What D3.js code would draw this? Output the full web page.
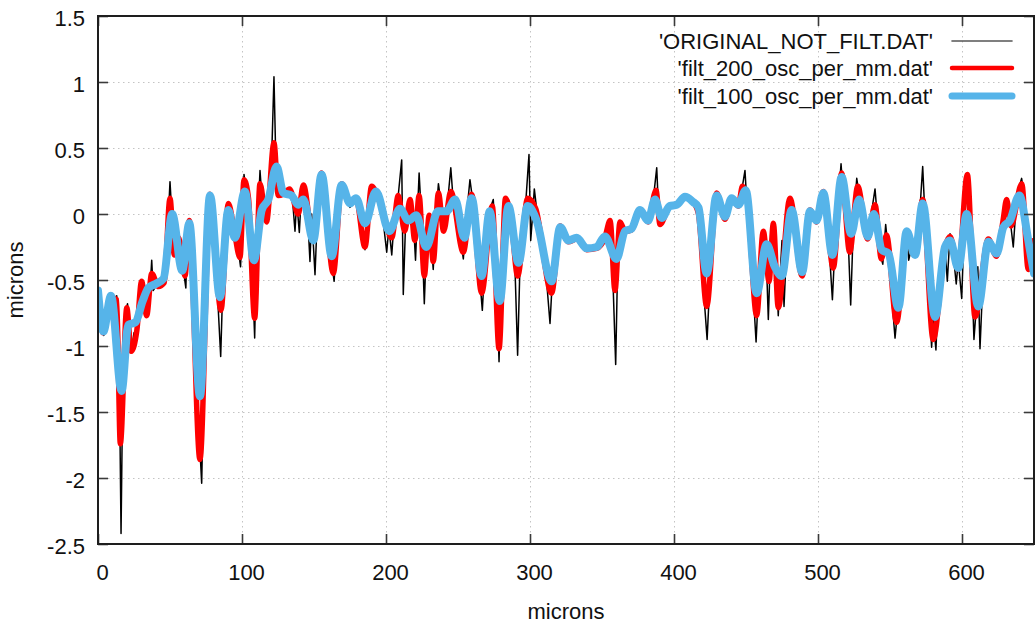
<!DOCTYPE html>
<html>
<head>
<meta charset="utf-8">
<script src="https://cdn.jsdelivr.net/npm/d3@7"></script>
<style>
  html, body { margin: 0; padding: 0; background: #fff; }
  svg { display: block; font-family: "Liberation Sans", Arial, sans-serif; }
</style>
</head>
<body>
<svg id="chart" width="1036" height="626"></svg>
<script>
// ---- data -------------------------------------------------------------
const seriesNames = ["'ORIGINAL_NOT_FILT.DAT'", "'filt_200_osc_per_mm.dat'", "'filt_100_osc_per_mm.dat'"];
const xTicks = [0, 100, 200, 300, 400, 500, 600];
const yTicks = [-2.5, -2, -1.5, -1, -0.5, 0, 0.5, 1, 1.5];
const xLabel = "microns";
const yLabel = "microns";

// raw profile [position, height]
const original = [
  [0,-0.62],[2,-0.82],[4,-0.92],[7,-0.7],[9,-0.62],[12,-0.68],[13,-0.62],[14.5,-0.9],[16,-2.42],[17.5,-1.0],
  [19,-0.75],[20.5,-0.68],[22,-0.85],[23,-1.05],[25,-0.9],[27,-0.88],[29,-0.7],[30.5,-0.5],[32,-0.62],[34,-0.78],
  [36,-0.6],[37.3,-0.35],[38.3,-0.58],[40,-0.55],[42,-0.55],[45,-0.52],[47,-0.45],[50,0.245],[51,0.05],[53,-0.3],
  [55,-0.2],[57,-0.25],[59,-0.4],[61,-0.56],[62,-0.2],[63.5,-0.05],[65,-0.2],[67,-0.7],[69,-1.4],[72,-2.04],
  [73,-1.5],[75,-0.4],[77.8,0.15],[80,-0.1],[82,-0.4],[85.2,-1.08],[86.5,-0.6],[88,-0.1],[90.5,0.08],[92,-0.05],
  [94,-0.2],[96,-0.15],[99,-0.4],[101.4,0.3],[103,0.15],[105,0.05],[107,-0.4],[108.8,-0.94],[110,-0.3],[112.5,0.33],
  [114,0.1],[116,-0.05],[118,-0.03],[120,0.2],[122.2,1.04],[123.5,0.4],[125.2,0.14],[127,0.15],[129,0.18],[131,0.16],
  [133,0.19],[135,0.12],[136.8,-0.13],[138,0.1],[139.8,-0.14],[141,0.1],[142.6,0.22],[144,0.05],[146,-0.1],[147.2,-0.36],
  [148.4,0.0],[150.7,-0.46],[152,-0.1],[155.3,0.32],[158,0.15],[160,-0.2],[162,-0.35],[164,-0.51],[166,-0.1],[169.2,0.24],
  [171,0.15],[173,0.1],[175,0.05],[177,0.1],[179.2,0.12],[181,0.05],[183,-0.1],[185.4,-0.27],[187,-0.1],[190,0.21],
  [192,0.15],[194,0.1],[196,0.05],[198,-0.05],[200.5,-0.29],[202,-0.1],[204,-0.31],[206,0.0],[208.5,0.14],[210.9,0.41],
  [212,-0.61],[213.5,-0.1],[216.7,0.11],[219,-0.05],[220.5,-0.35],[223,0.31],[224.5,0.0],[226.6,-0.68],[228.5,-0.1],[230,-0.01],
  [232.8,-0.42],[234.5,-0.05],[236.4,0.23],[238,0.1],[240,-0.13],[242,0.0],[245,0.35],[247,0.05],[250,-0.05],[253.7,-0.34],
  [256,0.0],[258.3,0.26],[260,0.12],[263,-0.2],[266.9,-0.73],[269,-0.3],[271,0.0],[274.5,0.11],[276,-0.2],[278.5,-1.12],
  [280,-0.5],[283,0.12],[285,0.05],[287,-0.08],[289,-0.2],[291.4,-1.07],[293,-0.4],[295,-0.1],[297,0.08],[299.3,0.45],
  [300.5,-0.2],[301.5,-0.05],[303,0.19],[305,0.0],[307,-0.05],[310,-0.3],[313.9,-0.83],[316,-0.4],[318,-0.2],[321,-0.09],
  [324,-0.15],[326.6,-0.21],[330,-0.18],[332.4,-0.19],[336,-0.25],[339.4,-0.28],[343,-0.25],[346.3,-0.26],[349,-0.22],[352,-0.18],
  [355.6,-0.04],[357,-0.3],[359.5,-1.14],[361,-0.3],[362.5,-0.05],[364,-0.1],[366,-0.13],[370.6,-0.12],[373,-0.05],[376.4,0.03],
  [379,0.0],[382,-0.06],[385,0.05],[388,0.35],[389,0.1],[390.3,-0.08],[393,0.0],[397,0.06],[401.9,0.07],[405,0.1],
  [407.6,0.13],[410,0.1],[413.4,0.09],[416,0.05],[418,-0.1],[420,-0.5],[423,-0.95],[424.5,-0.6],[426,-0.2],[429.6,0.16],
  [432,0.05],[435.4,-0.05],[438,0.05],[440,0.12],[442,0.08],[444.7,0.05],[447.5,0.21],[449.3,0.33],[450.5,0.1],[452,-0.1],
  [454,-0.4],[457,-0.97],[459,-0.5],[460.5,-0.2],[462,-0.12],[464,-0.3],[465.5,-0.8],[467,-0.3],[469,-0.07],[470.5,-0.3],
  [472.4,-0.77],[474,-0.4],[475,-0.2],[476.4,-0.7],[478,-0.3],[480.5,0.12],[483,0.0],[486,-0.3],[489,-0.47],[491,-0.2],
  [494.4,0.03],[497,0.0],[499,-0.06],[501,0.05],[503.7,0.17],[506,0.0],[508,-0.3],[510,-0.65],[511.5,-0.3],[513.5,0.0],
  [516,0.38],[517.5,0.15],[519,0.0],[521,-0.2],[522.7,-0.69],[524.5,-0.1],[526.9,0.27],[528.5,0.15],[531,0.0],[534.5,-0.19],
  [537,0.0],[539.6,0.19],[541,0.0],[543,-0.3],[545,-0.38],[547,-0.08],[549,-0.3],[551,-0.6],[553.5,-0.94],[555.5,-0.7],
  [558,-0.4],[561.6,-0.15],[563,-0.35],[565,-0.25],[567.4,-0.31],[570,-0.1],[572.7,0.36],[574,0.05],[576,-0.4],[578.9,-1.01],
  [580,-0.8],[581.9,-1.03],[583.5,-0.6],[586,-0.3],[588.2,-0.25],[589.8,-0.51],[591.7,-0.15],[593,-0.2],[596,-0.53],[597.4,-0.35],
  [599.8,-0.64],[601.5,-0.1],[603.7,0.28],[605,0.0],[607,-0.5],[608.3,-0.95],[610,-0.7],[611,-0.4],[612.5,-1.02],[614.5,-0.5],
  [616.5,-0.25],[618.3,-0.2],[621,-0.3],[624,-0.32],[627,-0.15],[629,-0.05],[631,0.1],[633,0.0],[635.6,-0.25],[637.5,0.05],
  [639.5,0.2],[641.4,0.27],[643,0.15],[645,-0.1],[646.5,-0.42],[648,-0.3],[650,-0.18]
];

// 200 osc/mm low-pass result
const filt200 = [
  [0,-0.6],[3.5,-0.9],[9,-0.63],[13,-0.65],[15.5,-1.74],[20,-0.71],[23,-1.04],[27,-0.88],[30.3,-0.51],[33.8,-0.77],
  [37.3,-0.45],[42,-0.55],[46,-0.52],[50,0.12],[53,-0.31],[56,-0.18],[60.4,-0.47],[63.4,-0.05],[70.8,-1.86],[77.8,0.15],
  [85.4,-0.73],[90.5,0.08],[94.5,-0.12],[98.6,-0.33],[101.4,0.26],[104.5,0.12],[108.8,-0.79],[112.5,0.23],[117,-0.06],[122.2,0.54],
  [125.2,0.14],[128.5,0.15],[133,0.19],[139,0.0],[142.6,0.22],[149.5,-0.2],[155.3,0.31],[163.4,-0.45],[169.2,0.23],[175,0.08],
  [179.2,0.12],[185.4,-0.25],[190,0.21],[196,0.08],[204,-0.18],[208.5,0.14],[213,-0.13],[216.7,0.11],[220,-0.2],[223,0.14],
  [226.6,-0.47],[230,-0.01],[232.8,-0.36],[236.4,0.16],[240,-0.13],[245,0.17],[253.7,-0.29],[259.5,0.15],[266.4,-0.6],[273.8,0.06],
  [278.5,-1.02],[283,0.12],[287,-0.05],[291.4,-0.47],[298.4,0.12],[304,0.04],[315,-0.6],[321,-0.09],[326.6,-0.21],[332.4,-0.19],
  [339.4,-0.27],[346.3,-0.26],[352,-0.18],[355.6,-0.05],[359,-0.58],[362.5,-0.06],[366,-0.13],[370.6,-0.12],[376.4,0.03],[382,-0.06],
  [387.5,0.18],[390.3,-0.08],[397,0.06],[401.9,0.07],[407.6,0.13],[413.4,0.09],[417,0.0],[422.7,-0.7],[429.6,0.16],[435.4,-0.04],
  [440,0.12],[444.7,0.06],[447.5,0.21],[451,0.1],[457.4,-0.77],[462,-0.13],[466,-0.51],[469,-0.07],[472.4,-0.71],[480.5,0.12],
  [489,-0.47],[494.4,0.03],[499,-0.06],[503.7,0.17],[510.6,-0.41],[516.4,0.31],[522,-0.29],[527.6,0.21],[534.5,-0.19],[539.6,0.07],
  [544,-0.34],[547.6,-0.16],[554.6,-0.82],[561.6,-0.15],[567.4,-0.31],[572.7,0.11],[580,-0.95],[588.2,-0.25],[591.7,-0.17],[597.4,-0.42],
  [603.7,0.3],[609,-0.78],[618.3,-0.19],[624,-0.32],[628.5,-0.05],[631,0.11],[634,-0.09],[641.5,0.23],[646,-0.42],[650,-0.2]
];

// 100 osc/mm low-pass result
const filt100 = [
  [0,-0.58],[3.7,-0.89],[9,-0.62],[16.4,-1.34],[21,-0.84],[26,-0.82],[31,-0.66],[35,-0.56],[40,-0.53],[45.5,-0.49],
  [51.5,0.0],[58.5,-0.43],[63.4,-0.07],[70.8,-1.38],[77.8,0.14],[84.7,-0.63],[90.5,0.03],[95,-0.18],[102,0.17],[108.3,-0.35],
  [113.7,0.03],[118.3,0.11],[124,0.36],[128.7,0.16],[134.5,0.14],[139,0.07],[142.6,0.11],[149.5,-0.2],[155.3,0.3],[162.3,-0.32],
  [169.2,0.22],[175,0.08],[179.2,0.12],[185.4,-0.07],[193,0.17],[202.3,-0.13],[209.7,0.04],[215.5,-0.05],[221,-0.01],[228,-0.25],
  [236,0.02],[242,0.02],[248,0.11],[254.4,-0.18],[259.5,0.12],[266.4,-0.47],[272,0.02],[279,-0.66],[285,0.06],[292,-0.37],
  [298.4,0.06],[304.6,-0.05],[315,-0.51],[321,-0.1],[326.6,-0.2],[332.4,-0.18],[339.4,-0.26],[346.3,-0.25],[352,-0.17],[360,-0.34],
  [366,-0.13],[370.6,-0.11],[376.4,0.03],[382,-0.05],[386.8,0.11],[391.5,-0.03],[397,0.06],[401.9,0.07],[407.6,0.13],[413.4,0.09],
  [417,0.05],[422.7,-0.45],[429.6,0.14],[435.4,-0.02],[440,0.12],[444.7,0.07],[449.8,0.18],[457.4,-0.6],[464.3,-0.23],[470,-0.4],
  [474.8,-0.47],[481.7,0.03],[489,-0.44],[494.4,0.02],[499,-0.05],[503.7,0.16],[510,-0.31],[516.4,0.28],[523,-0.15],[528.5,0.11],
  [534.5,-0.17],[538.8,0.0],[544.2,-0.27],[549,-0.3],[555.8,-0.71],[561.6,-0.13],[567.4,-0.31],[572.7,0.08],[581.3,-0.78],[588.2,-0.25],
  [591.7,-0.2],[597.4,-0.41],[603.3,0.0],[611.3,-0.7],[618.3,-0.21],[624,-0.3],[628.7,-0.1],[633.3,-0.05],[639.8,0.14],[646,-0.2],
  [650,-0.45]
];

// ---- layout -------------------------------------------------------------
const W = 1036, H = 626;
const margin = { top: 16, right: 2, bottom: 82, left: 98 };
const iw = W - margin.left - margin.right;
const ih = H - margin.top - margin.bottom;
const FONT = 22;

const svg = d3.select("#chart");
const g = svg.append("g").attr("transform", `translate(${margin.left},${margin.top})`);

const x = d3.scaleLinear().domain([0, 650]).range([0, iw]);
const y = d3.scaleLinear().domain([-2.5, 1.5]).range([ih, 0]);

// dotted grid
const grid = g.append("g").attr("stroke", "#c4c4c4").attr("stroke-width", 1).attr("stroke-dasharray", "1.5,3.5");
grid.selectAll("line.gx").data(xTicks.filter(v => v > 0)).join("line")
  .attr("x1", d => Math.round(x(d)) + 0.5).attr("x2", d => Math.round(x(d)) + 0.5)
  .attr("y1", 0).attr("y2", ih);
grid.selectAll("line.gy").data(yTicks.filter(v => v > -2.5 && v < 1.5)).join("line")
  .attr("y1", d => Math.round(y(d)) + 0.5).attr("y2", d => Math.round(y(d)) + 0.5)
  .attr("x1", 0).attr("x2", iw);

// series
const clip = svg.append("defs").append("clipPath").attr("id", "plotclip");
clip.append("rect").attr("width", iw).attr("height", ih);

const plot = g.append("g").attr("clip-path", "url(#plotclip)");
const rawLine = d3.line().x(d => x(d[0])).y(d => y(d[1])).curve(d3.curveLinear);
const smoothLine = d3.line().x(d => x(d[0])).y(d => y(d[1])).curve(d3.curveMonotoneX);

const styles = [
  { color: "#000000", width: 1.5, gen: rawLine, data: original },
  { color: "#ff0000", width: 5.5, gen: smoothLine, data: filt200 },
  { color: "#56b4e9", width: 8, gen: smoothLine, data: filt100 }
];
styles.forEach(s => {
  plot.append("path").datum(s.data)
    .attr("fill", "none").attr("stroke", s.color).attr("stroke-width", s.width)
    .attr("stroke-linejoin", "round").attr("stroke-linecap", "round")
    .attr("d", s.gen);
});

// axes with inward ticks on all sides
function styleAxis(sel) {
  sel.select(".domain").remove();
  sel.selectAll(".tick line").attr("stroke", "#3a3a3a").attr("stroke-width", 1.6);
  sel.selectAll(".tick text").attr("fill", "#111").style("font-size", FONT + "px")
    .style("font-family", '"Liberation Sans", Arial, sans-serif');
}
const fmt = v => String(v);
g.append("g").attr("transform", `translate(0,${ih})`)
  .call(d3.axisBottom(x).tickValues(xTicks).tickFormat(fmt).tickSize(-10).tickPadding(20))
  .call(styleAxis)
  .call(a => a.selectAll(".tick text").attr("dx", 4));
g.append("g")
  .call(d3.axisLeft(y).tickValues(yTicks).tickFormat(fmt).tickSize(-10).tickPadding(13))
  .call(styleAxis)
  .call(a => a.selectAll(".tick text").attr("dy", "0.45em"));
g.append("g")
  .call(d3.axisTop(x).tickValues(xTicks).tickFormat("").tickSize(-10))
  .call(styleAxis);
g.append("g").attr("transform", `translate(${iw},0)`)
  .call(d3.axisRight(y).tickValues(yTicks).tickFormat("").tickSize(-10))
  .call(styleAxis);

// frame
g.append("rect").attr("x", 0).attr("y", 0).attr("width", iw).attr("height", ih)
  .attr("fill", "none").attr("stroke", "#1e1e1e").attr("stroke-width", 2);

// axis titles
svg.append("text").attr("x", margin.left + iw / 2).attr("y", 619)
  .attr("text-anchor", "middle").attr("fill", "#111").style("font-size", FONT + "px").text(xLabel);
svg.append("text").attr("transform", `translate(23,${margin.top + ih / 2}) rotate(-90)`)
  .attr("text-anchor", "middle").attr("fill", "#111").style("font-size", FONT + "px").text(yLabel);

// legend
const legend = svg.append("g");
const legendRowY = [41, 68, 96];
styles.forEach((s, i) => {
  legend.append("text").attr("x", 933).attr("y", legendRowY[i] + 8)
    .attr("text-anchor", "end").attr("fill", "#111").style("font-size", FONT + "px")
    .text(seriesNames[i]);
  legend.append("line").attr("x1", 952).attr("x2", 1012)
    .attr("y1", legendRowY[i]).attr("y2", legendRowY[i])
    .attr("stroke", i === 0 ? "#555" : s.color).attr("stroke-width", i === 0 ? 1.6 : (i === 1 ? 4.5 : 7))
    .attr("stroke-linecap", "round");
});
</script>
</body>
</html>
